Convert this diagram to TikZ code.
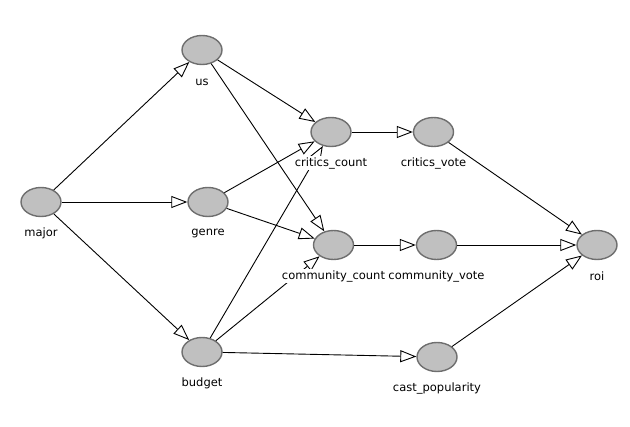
\documentclass[tikz,border=0pt]{standalone}
\usepackage{fontspec}
\setmainfont{DejaVu Sans}
\usetikzlibrary{arrows.meta,shapes.geometric}
\definecolor{nodefill}{HTML}{C0C0C0}
\definecolor{nodeline}{HTML}{6E6E6E}
\begin{document}
\begin{tikzpicture}[x=1pt,y=-1pt,
  var/.style={ellipse,draw=nodeline,fill=nodefill,line width=1.4pt,minimum width=40pt,minimum height=29pt,inner sep=0pt},
  lab/.style={fill=white,inner sep=1pt,font=\fontsize{11.5}{13}\selectfont},
  edge/.style={draw=black,line width=0.9pt,-{Triangle[fill=white,length=16pt,width=12pt,line width=0.9pt]}}]
\useasboundingbox (0,0) rectangle (630,427);
\node[var] (major) at (41,202) {};
\node[var] (us) at (202,50) {};
\node[var] (genre) at (208,202) {};
\node[var] (budget) at (202,352) {};
\node[var] (cc) at (331,132) {};
\node[var] (mc) at (333.5,245) {};
\node[var] (cv) at (433.5,132) {};
\node[var] (mv) at (436.5,245) {};
\node[var] (cp) at (437,357) {};
\node[var] (roi) at (597,245) {};
\draw[edge] (major) -- (us);
\draw[edge] (major) -- (genre);
\draw[edge] (major) -- (budget);
\draw[edge] (us) -- (cc);
\draw[edge] (us) -- (mc);
\draw[edge] (genre) -- (cc);
\draw[edge] (genre) -- (mc);
\draw[edge] (budget) -- (cc);
\draw[edge] (budget) -- (mc);
\draw[edge] (budget) -- (cp);
\draw[edge] (cc) -- (cv);
\draw[edge] (mc) -- (mv);
\draw[edge] (cv) -- (roi);
\draw[edge] (mv) -- (roi);
\draw[edge] (cp) -- (roi);
\node[lab] (majorl) at ([yshift=-31pt]major.center) {major};
\node[lab] (usl) at ([yshift=-32pt]us.center) {us};
\node[lab] (genrel) at ([yshift=-31pt]genre.center) {genre};
\node[lab] (budgetl) at ([yshift=-31pt]budget.center) {budget};
\node[lab] (ccl) at ([yshift=-31pt]cc.center) {critics\_count};
\node[lab] (mcl) at ([yshift=-31pt]mc.center) {community\_count};
\node[lab] (cvl) at ([yshift=-31pt]cv.center) {critics\_vote};
\node[lab] (mvl) at ([yshift=-31pt]mv.center) {community\_vote};
\node[lab] (cpl) at ([yshift=-31pt]cp.center) {cast\_popularity};
\node[lab] (roil) at ([yshift=-31pt]roi.center) {roi};
\end{tikzpicture}
\end{document}
